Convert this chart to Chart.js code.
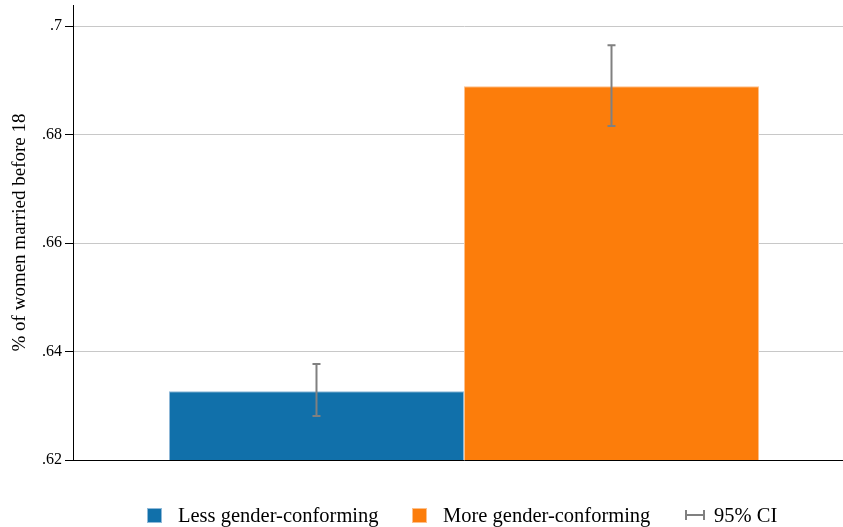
<!DOCTYPE html>
<html>
<head>
<meta charset="utf-8">
<script src="https://cdn.jsdelivr.net/npm/chart.js@4"></script>
<style>
  html, body { margin: 0; padding: 0; background: #fff; overflow: hidden; }
  #wrap { position: relative; width: 843px; height: 527px; overflow: hidden; }
  #chart { position: absolute; left: 0; top: 0; }
  .leg { position: absolute; top: 502px; font: 20.5px 'Liberation Serif', 'Times New Roman', serif; color: #000; white-space: nowrap; line-height: 26px; }
  .sw { position: absolute; width: 15px; height: 15px; top: 508px; }
  .ci { position: absolute; top: 514px; width: 20px; height: 2px; background: #808080; }
  .ci::before, .ci::after { content: ''; position: absolute; top: -4px; width: 2px; height: 10px; background: #808080; }
  .ci::before { left: 0; }
  .ci::after { right: 0; }
</style>
</head>
<body>
<div id="wrap">
  <canvas id="chart" width="855" height="527"></canvas>
  <div class="sw" style="left:147px;background:#1170aa;border:1px solid #8fb9d8;box-sizing:border-box"></div>
  <div class="leg" style="left:178px">Less gender-conforming</div>
  <div class="sw" style="left:412px;background:#fc7d0b;border:1px solid #fdc08a;box-sizing:border-box"></div>
  <div class="leg" style="left:443px">More gender-conforming</div>
  <div class="ci" style="left:685px"></div>
  <div class="leg" style="left:714px">95% CI</div>
</div>
<script>
  // ---- data ----
  const groups = ['Less gender-conforming', 'More gender-conforming'];
  const means = [0.6327, 0.6889];
  const ciLow = [0.6281, 0.6816];
  const ciHigh = [0.6377, 0.6965];
  const yTicks = [0.62, 0.64, 0.66, 0.68, 0.70];
  const yTickLabels = ['.62', '.64', '.66', '.68', '.7'];

  const fills = ['#1170aa', '#fc7d0b'];
  const edges = ['#8fb9d8', '#fdc08a'];

  // error bars drawn from the CI arrays through the y scale
  const errorBars = {
    id: 'errorBars',
    afterDatasetsDraw(chart) {
      const ctx = chart.ctx;
      const y = chart.scales.y;
      ctx.save();
      ctx.strokeStyle = '#808080';
      ctx.lineWidth = 2;
      chart.data.datasets.forEach((ds, i) => {
        const bar = chart.getDatasetMeta(i).data[0];
        const x = bar.x;
        const top = y.getPixelForValue(ciHigh[i]);
        const bot = y.getPixelForValue(ciLow[i]);
        ctx.beginPath();
        ctx.moveTo(x, top); ctx.lineTo(x, bot);
        ctx.moveTo(x - 4, top); ctx.lineTo(x + 4, top);
        ctx.moveTo(x - 4, bot); ctx.lineTo(x + 4, bot);
        ctx.stroke();
      });
      ctx.restore();
    }
  };

  new Chart(document.getElementById('chart'), {
    type: 'bar',
    data: {
      labels: [''],
      datasets: groups.map((g, i) => ({
        label: g,
        data: [means[i]],
        backgroundColor: fills[i],
        borderColor: edges[i],
        borderWidth: 1,
        categoryPercentage: 0.7545,
        barPercentage: 1.0
      }))
    },
    plugins: [errorBars],
    options: {
      responsive: false,
      animation: false,
      layout: { padding: { top: 5, right: 0, bottom: 67, left: 0 } },
      plugins: {
        legend: { display: false },
        tooltip: { enabled: false }
      },
      scales: {
        x: {
          ticks: { display: false },
          grid: { display: false, drawTicks: false },
          border: { display: true, color: '#000', width: 1 },
          afterFit: s => { s.height = 0; s.paddingLeft = 0; s.paddingRight = 0; }
        },
        y: {
          min: 0.62,
          max: 0.7039,
          afterBuildTicks: s => { s.ticks = yTicks.map(v => ({ value: v })); },
          ticks: {
            color: '#000',
            padding: 3,
            font: { family: "'Liberation Serif', serif", size: 16 },
            callback: (v) => {
              const k = yTicks.findIndex(t => Math.abs(t - v) < 1e-6);
              return k >= 0 ? yTickLabels[k] : '';
            }
          },
          grid: {
            color: c => (c.tick && Math.abs(c.tick.value - 0.62) < 1e-6) ? 'rgba(0,0,0,0)' : '#c8c8c8',
            tickColor: '#000',
            tickLength: 8,
            lineWidth: 1
          },
          border: { display: true, color: '#000', width: 1 },
          title: {
            display: true,
            text: '% of women married before 18',
            color: '#000',
            font: { family: "'Liberation Serif', serif", size: 19 },
            padding: { top: 9, bottom: 0 }
          },
          afterFit: s => { s.width = 73; s.paddingTop = 0; s.paddingBottom = 0; }
        }
      }
    }
  });
</script>
</body>
</html>
